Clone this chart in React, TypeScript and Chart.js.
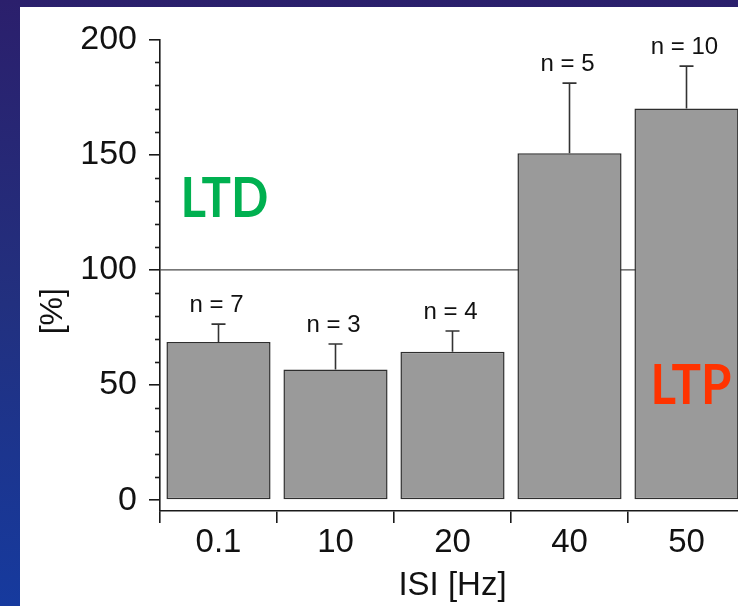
import React, { useEffect, useRef } from "react";
import { Chart, registerables } from "chart.js";

Chart.register(...registerables);

// ---- data ----
const categories = ["0.1", "10", "20", "40", "50"];
const means = [68.7, 56.7, 64.4, 150.6, 170.0];
const errors = [7.7, 11.1, 9.0, 30.4, 18.4];
const nLabels = ["n = 7", "n = 3", "n = 4", "n = 5", "n = 10"];
const yMajorTicks = [0, 50, 100, 150, 200];
const yMinorTicks = [10, 20, 30, 40, 60, 70, 80, 90, 110, 120, 130, 140, 160, 170, 180, 190];
const referenceLevel = 100;
const xTitle = "ISI [Hz]";
const yTitle = "[%]";
const ltdText = "LTD";
const ltpText = "LTP";
const ltdLevel = 123;
const ltpLevel = 41.6;

const FONT = "'Liberation Sans', Arial, Helvetica, sans-serif";
const INK = "#111111";

const overlayPlugin = {
  id: "overlay",
  beforeDatasetsDraw(chart: any) {
    const { ctx, chartArea, scales } = chart;
    const y = scales.y;
    const py = y.getPixelForValue(referenceLevel);
    ctx.save();
    ctx.strokeStyle = "#4a4a4a";
    ctx.lineWidth = 1.3;
    ctx.beginPath();
    ctx.moveTo(chartArea.left, py);
    ctx.lineTo(chartArea.right + 20, py);
    ctx.stroke();
    ctx.restore();
  },
  afterDatasetsDraw(chart: any) {
    const { ctx, chartArea, scales } = chart;
    const y = scales.y;
    const meta = chart.getDatasetMeta(0);
    ctx.save();
    // minor ticks
    ctx.strokeStyle = "#1a1a1a";
    ctx.lineWidth = 1.6;
    yMinorTicks.forEach((v) => {
      const py = Math.round(y.getPixelForValue(v)) + 0.5;
      ctx.beginPath();
      ctx.moveTo(chartArea.left - 5, py);
      ctx.lineTo(chartArea.left, py);
      ctx.stroke();
    });
    // error bars + n labels
    meta.data.forEach((bar: any, i: number) => {
      const top = y.getPixelForValue(means[i] + errors[i]);
      const x = bar.x;
      ctx.strokeStyle = "#333333";
      ctx.lineWidth = 1.6;
      ctx.beginPath();
      ctx.moveTo(x, bar.y);
      ctx.lineTo(x, top);
      ctx.moveTo(x - 7, top);
      ctx.lineTo(x + 7, top);
      ctx.stroke();
      ctx.fillStyle = INK;
      ctx.font = `24px ${FONT}`;
      ctx.textAlign = "center";
      ctx.textBaseline = "alphabetic";
      ctx.fillText(nLabels[i], x - 2, top - 12);
    });
    // LTD / LTP annotations
    ctx.font = `bold 56px Lato, 'Open Sans', sans-serif`;
    const sx = 88 / ctx.measureText(ltdText).width;
    ctx.textAlign = "left";
    ctx.textBaseline = "alphabetic";
    const b0 = meta.data[0];
    const b4 = meta.data[4];
    ctx.save();
    ctx.translate(b0.x - b0.width / 2 + 14, y.getPixelForValue(ltdLevel));
    ctx.scale(sx, 1);
    ctx.fillStyle = "#00b050";
    ctx.fillText(ltdText, 0, 0);
    ctx.restore();
    ctx.save();
    ctx.translate(b4.x - b4.width / 2 + 16, y.getPixelForValue(ltpLevel));
    ctx.scale(sx, 1);
    ctx.fillStyle = "#ff3300";
    ctx.fillText(ltpText, 0, 0);
    ctx.restore();
    // y title
    ctx.save();
    ctx.translate(33, y.getPixelForValue(82));
    ctx.rotate(-Math.PI / 2);
    ctx.font = `32px ${FONT}`;
    ctx.fillStyle = INK;
    ctx.textAlign = "center";
    ctx.textBaseline = "middle";
    ctx.fillText(yTitle, 0, 0);
    ctx.restore();
    ctx.restore();
  },
};

export default function App() {
  const ref = useRef<HTMLCanvasElement | null>(null);
  useEffect(() => {
    if (!ref.current) return;
    const chart = new Chart(ref.current, {
      type: "bar",
      data: {
        labels: categories,
        datasets: [
          {
            data: means,
            backgroundColor: "#9a9a9a",
            borderColor: "#2e2e2e",
            borderWidth: 1.5,
            borderSkipped: false,
            barPercentage: 0.89,
            categoryPercentage: 1,
          },
        ],
      },
      options: {
        animation: false,
        responsive: false,
        maintainAspectRatio: false,
        layout: { padding: { top: 27, right: 15, left: 0, bottom: 0 } },
        plugins: { legend: { display: false }, tooltip: { enabled: false } },
        scales: {
          x: {
            type: "category",
            grid: {
              display: true,
              drawOnChartArea: false,
              drawTicks: true,
              tickLength: 12,
              color: "#1a1a1a",
              lineWidth: 1.6,
              offset: true,
            },
            border: { display: true, color: "#1a1a1a", width: 1.6 },
            ticks: {
              font: { family: FONT, size: 33 },
              color: INK,
              padding: 0,
              maxRotation: 0,
              autoSkip: false,
            },
            title: {
              display: true,
              text: xTitle,
              font: { family: FONT, size: 33 },
              color: INK,
              padding: { top: 0, bottom: 0 },
            },
            afterFit(scale: any) {
              scale.height = 95;
            },
          },
          y: {
            min: -4.7,
            max: 200,
            afterBuildTicks(scale: any) {
              scale.ticks = yMajorTicks.map((v) => ({ value: v }));
            },
            grid: {
              drawOnChartArea: false,
              drawTicks: true,
              tickLength: 11,
              color: "#1a1a1a",
              lineWidth: 1.6,
            },
            border: { display: true, color: "#1a1a1a", width: 1.6 },
            ticks: {
              font: { family: FONT, size: 34 },
              color: INK,
              padding: 12,
            },
            afterFit(scale: any) {
              scale.width = 140;
            },
          },
        },
      },
      plugins: [overlayPlugin],
    } as any);
    return () => chart.destroy();
  }, []);

  return (
    <div
      style={{
        position: "fixed",
        left: 0,
        top: 0,
        width: 738,
        height: 606,
        overflow: "hidden",
        background: "linear-gradient(to bottom, #2b1f6c 0%, #22307f 50%, #163a9e 100%)",
      }}
    >
      <canvas
        ref={ref}
        width={740}
        height={599}
        style={{ position: "absolute", left: 20, top: 7, width: 740, height: 599, background: "#ffffff" }}
      />
    </div>
  );
}
